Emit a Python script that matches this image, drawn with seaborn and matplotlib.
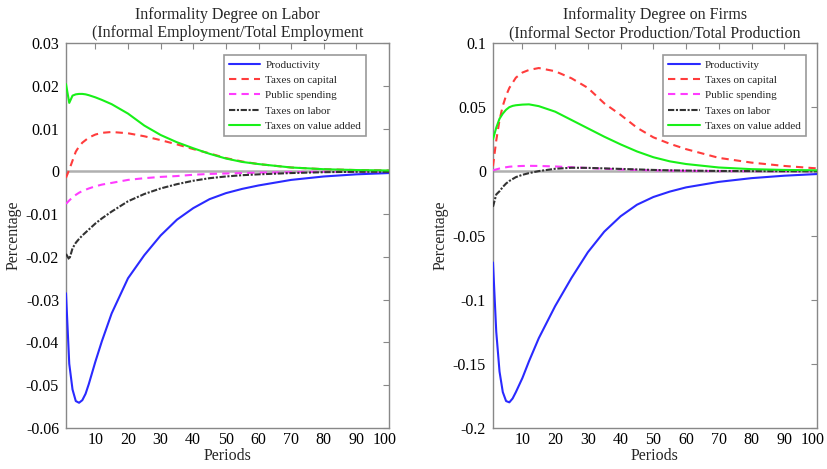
import matplotlib
matplotlib.use("Agg")
import matplotlib.pyplot as plt
import matplotlib.transforms as mtransforms
import seaborn as sns

sns.set_theme(style="white")
plt.rcParams["font.family"] = ["Liberation Serif", "DejaVu Serif"]

periods = [1, 2, 3, 4, 5, 6, 7, 8, 10, 12, 15, 20, 25, 30, 35, 40, 45, 50, 55, 60, 70, 80, 90, 100]

# Informality degree on labor
labor_productivity = [-0.0285, -0.045, -0.051, -0.0537, -0.0541, -0.0535, -0.052, -0.0497, -0.0445, -0.0397,
                      -0.0332, -0.0250, -0.0196, -0.0150, -0.0113, -0.0086, -0.0065, -0.0051, -0.0041, -0.0033,
                      -0.0020, -0.0012, -0.0007, -0.0004]
labor_capital = [-0.0015, 0.0004, 0.0025, 0.0046, 0.0058, 0.0067, 0.0073, 0.0079, 0.0086, 0.0090,
                 0.0092, 0.0089, 0.0082, 0.0073, 0.0063, 0.0052, 0.0042, 0.0031, 0.0023, 0.0017,
                 0.0009, 0.0005, 0.0003, 0.0002]
labor_spending = [-0.0076, -0.0068, -0.0061, -0.0055, -0.0050, -0.0046, -0.0043, -0.0040, -0.0035, -0.0031,
                  -0.0027, -0.0020, -0.0016, -0.0013, -0.0011, -0.0008, -0.0006, -0.0005, -0.0004, -0.0003,
                  -0.0002, -0.0001, -0.0001, 0.0]
labor_labor = [-0.0193, -0.0206, -0.0180, -0.0167, -0.0158, -0.0150, -0.0143, -0.0136, -0.0122, -0.0110,
               -0.0094, -0.0070, -0.0053, -0.0040, -0.0030, -0.0022, -0.0016, -0.0012, -0.0009, -0.0007,
               -0.0004, -0.0002, -0.0001, -0.0001]
labor_vat = [0.0204, 0.0160, 0.0177, 0.0180, 0.0181, 0.0181, 0.0180, 0.0178, 0.0173, 0.0167,
             0.0157, 0.0135, 0.0107, 0.0085, 0.0068, 0.0054, 0.0041, 0.0030, 0.0022, 0.0017,
             0.0009, 0.0005, 0.0003, 0.0002]

# Informality degree on firms
firms_productivity = [-0.071, -0.125, -0.156, -0.172, -0.179, -0.180, -0.177, -0.172, -0.161, -0.148,
                      -0.130, -0.105, -0.083, -0.063, -0.047, -0.035, -0.026, -0.020, -0.0158, -0.0125,
                      -0.0082, -0.0053, -0.0034, -0.0021]
firms_capital = [0.004, 0.024, 0.040, 0.051, 0.059, 0.065, 0.069, 0.073, 0.077, 0.079,
                 0.0805, 0.078, 0.0725, 0.065, 0.053, 0.044, 0.034, 0.0265, 0.0215, 0.0173,
                 0.0105, 0.0068, 0.0042, 0.0023]
firms_spending = [0.0008, 0.0015, 0.0022, 0.0028, 0.0032, 0.0036, 0.0038, 0.0040, 0.0042, 0.0043,
                  0.0042, 0.0038, 0.0032, 0.0026, 0.0020, 0.0015, 0.0011, 0.0008, 0.0006, 0.0004,
                  0.0002, 0.0001, 0.0001, 0.0]
firms_labor = [-0.0276, -0.0180, -0.0155, -0.0122, -0.0095, -0.0075, -0.0060, -0.0045, -0.0027, -0.0014,
               0.0002, 0.0020, 0.0028, 0.0027, 0.0023, 0.0019, 0.0015, 0.0011, 0.0008, 0.0006,
               0.0003, 0.0002, 0.0001, 0.0]
firms_vat = [0.025, 0.034, 0.041, 0.045, 0.048, 0.050, 0.051, 0.0515, 0.052, 0.0522,
             0.0508, 0.0465, 0.040, 0.0335, 0.027, 0.021, 0.0155, 0.011, 0.0078, 0.0057,
             0.003, 0.0017, 0.0011, 0.0008]

names = ["Productivity", "Taxes on capital", "Public spending", "Taxes on labor", "Taxes on value added"]
colors = ["#2a2aff", "#ff3c3c", "#ff3cff", "#333333", "#18f018"]
dashes = [None, (3.5, 2.5), (3.5, 2.5), (3, 0.8, 1, 0.8), None]

panels = [
    {
        "series": [labor_productivity, labor_capital, labor_spending, labor_labor, labor_vat],
        "title": "Informality Degree on Labor\n(Informal Employment/Total Employment",
        "ylim": (-0.06, 0.03),
        "yticks": [-0.06, -0.05, -0.04, -0.03, -0.02, -0.01, 0, 0.01, 0.02, 0.03],
        "ylabels": ["-0.06", "-0.05", "-0.04", "-0.03", "-0.02", "-0.01", "0", "0.01", "0.02", "0.03"],
        "pos": [0.0798, 0.0874, 0.3906, 0.8209],
        "legend_anchor": (0.929, 0.969),
    },
    {
        "series": [firms_productivity, firms_capital, firms_spending, firms_labor, firms_vat],
        "title": "Informality Degree on Firms\n(Informal Sector Production/Total Production",
        "ylim": (-0.2, 0.1),
        "yticks": [-0.2, -0.15, -0.1, -0.05, 0, 0.05, 0.1],
        "ylabels": ["-0.2", "-0.15", "-0.1", "-0.05", "0", "0.05", "0.1"],
        "pos": [0.5961, 0.0874, 0.3918, 0.8209],
        "legend_anchor": (0.966, 0.969),
    },
]

fig = plt.figure(figsize=(8.27, 4.69), dpi=100)
nudge = mtransforms.ScaledTranslation(-4 / 100, 0, fig.dpi_scale_trans)

for p in panels:
    ax = fig.add_axes(p["pos"])
    ax.axhline(0, color="#b0b0b0", lw=1.8, zorder=1)
    for vals, name, col, ds in zip(p["series"], names, colors, dashes):
        kw = {"dashes": ds} if ds else {}
        sns.lineplot(x=periods, y=vals, ax=ax, color=col, lw=1.5, label=name, zorder=3, **kw)
    ax.set_xlim(1, 100)
    ax.set_ylim(*p["ylim"])
    ax.set_xticks(range(10, 101, 10))
    ax.set_yticks(p["yticks"])
    ax.set_yticklabels(p["ylabels"])
    ax.tick_params(direction="in", top=True, right=True, length=4, width=0.8,
                   color="#888888", labelsize=11.5, labelcolor="black")
    ax.tick_params(axis="y", pad=5)
    ax.tick_params(axis="x", pad=3)
    # last x label sits a bit inside the box, as in the original
    last = ax.get_xticklabels()[-1]
    last.set_transform(last.get_transform() + nudge)
    for s in ax.spines.values():
        s.set_color("#888888")
        s.set_linewidth(1.0)
    ax.set_title(p["title"], fontsize=11.5, linespacing=1.2, pad=4)
    ax.set_xlabel("Periods", fontsize=11.5, labelpad=0)
    ax.set_ylabel("Percentage", fontsize=11.5, labelpad=3)
    leg = ax.legend(loc="upper right", bbox_to_anchor=p["legend_anchor"], fontsize=8,
                    frameon=True, fancybox=False, handlelength=2.8, borderpad=0.45,
                    labelspacing=0.5, handletextpad=0.5, borderaxespad=0)
    leg.get_frame().set_edgecolor("#999999")
    leg.get_frame().set_linewidth(1.2)
    leg.get_frame().set_facecolor("white")
    leg.get_frame().set_alpha(1)

fig.savefig("out.png", dpi=100)
